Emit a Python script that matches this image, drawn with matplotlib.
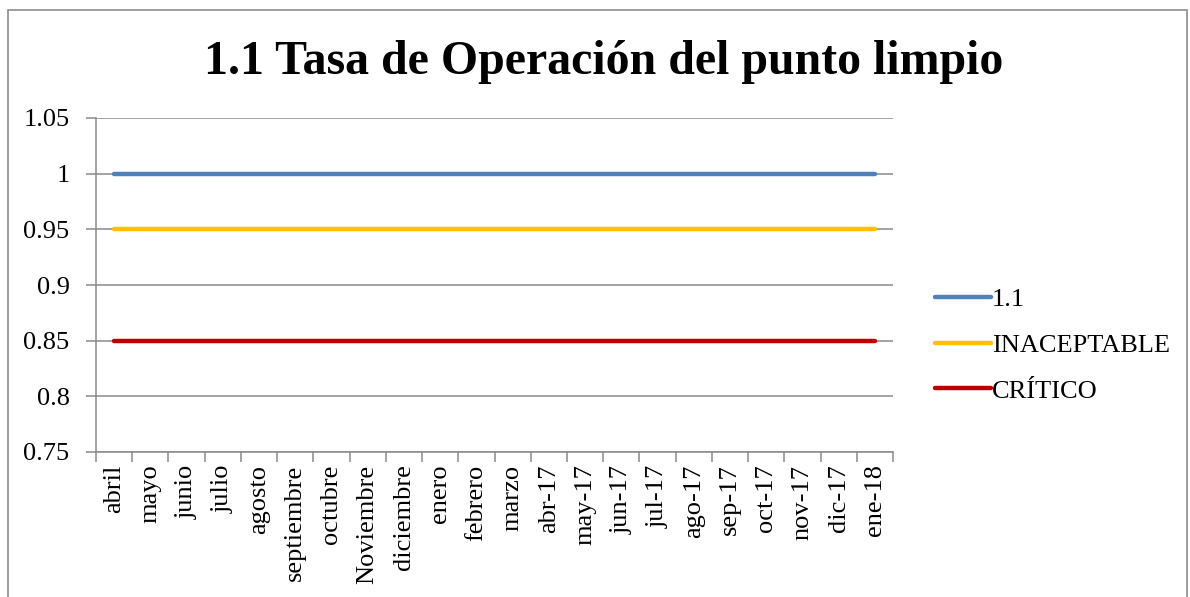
import matplotlib
matplotlib.use("Agg")
import matplotlib.pyplot as plt
from matplotlib.patches import Rectangle
import numpy as np

categories = ["abril", "mayo", "junio", "julio", "agosto", "septiembre", "octubre",
              "Noviembre", "diciembre", "enero", "febrero", "marzo", "abr-17", "may-17",
              "jun-17", "jul-17", "ago-17", "sep-17", "oct-17", "nov-17", "dic-17", "ene-18"]
serie_11 = [1.0] * 22
inaceptable = [0.95] * 22
critico = [0.85] * 22
yticks = [0.75, 0.8, 0.85, 0.9, 0.95, 1, 1.05]
ytick_labels = ["0.75", "0.8", "0.85", "0.9", "0.95", "1", "1.05"]

plt.rcParams['font.family'] = ['Liberation Serif', 'DejaVu Serif']

W, H = 1190, 597
fig = plt.figure(figsize=(W / 100, H / 100), dpi=100)
fig.patches.append(Rectangle((8 / W, -0.01), (1187 - 8) / W, 1 - 10 / H + 0.01,
                             transform=fig.transFigure, fill=False,
                             edgecolor="#8c8c8c", linewidth=1.2))

left, right, top, bottom = 96, 893, 118, 452
ax = fig.add_axes([left / W, 1 - bottom / H, (right - left) / W, (bottom - top) / H])

x = np.arange(len(categories))
grid_c = "#8a8a8a"
fs = 19
ax.plot(x, serie_11, color="#4F81BD", lw=3.2, solid_capstyle="round", label="1.1", zorder=3)
ax.plot(x, inaceptable, color="#FFC000", lw=3.2, solid_capstyle="round", label="INACEPTABLE", zorder=3)
ax.plot(x, critico, color="#C00000", lw=3.2, solid_capstyle="round", label="CRÍTICO", zorder=3)

ax.set_xlim(-0.5, len(categories) - 0.5)
ax.set_ylim(0.75, 1.05)
ax.set_yticks(yticks)
ax.set_yticklabels(ytick_labels, fontsize=fs)
ax.yaxis.grid(True, color=grid_c, lw=1.1)
ax.set_axisbelow(True)

ax.set_xticks(x)
ax.set_xticklabels(categories, rotation=90, fontsize=fs)
ax.set_xticks(np.arange(-0.5, len(categories)), minor=True)
ax.tick_params(axis="x", which="major", length=0, pad=9)
ax.tick_params(axis="x", which="minor", length=7, color=grid_c, width=1.1)
ax.tick_params(axis="y", length=7, color=grid_c, width=1.1, pad=12)

for s in ["top", "right"]:
    ax.spines[s].set_visible(False)
for s in ["left", "bottom"]:
    ax.spines[s].set_color(grid_c)
    ax.spines[s].set_linewidth(1.1)

fig.text(604 / W, 1 - 62 / H, "1.1 Tasa de Operación del punto limpio",
         ha="center", va="center", fontsize=34.5, fontweight="bold")

leg = ax.legend(loc="center left", bbox_to_anchor=(922 / W, 1 - 345 / H),
                bbox_transform=fig.transFigure, frameon=False, fontsize=fs,
                handlelength=2.1, handletextpad=0.05, labelspacing=0.85,
                borderpad=0)

fig.savefig("out.png", dpi=100)
